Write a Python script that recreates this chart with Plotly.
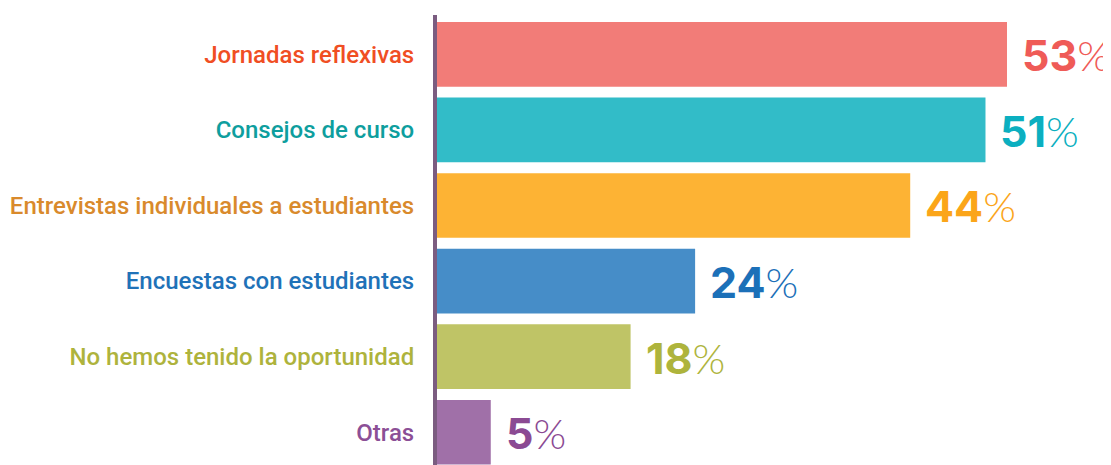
import plotly.graph_objects as go

categories = [
    "Jornadas reflexivas",
    "Consejos de curso",
    "Entrevistas individuales a estudiantes",
    "Encuestas con estudiantes",
    "No hemos tenido la oportunidad",
    "Otras",
]
values = [53, 51, 44, 24, 18, 5]
bar_colors = ["#F27C78", "#32BCC8", "#FDB334", "#468DC8", "#BFC466", "#A070A8"]
label_colors = ["#F04E23", "#0E9E9E", "#D98A2C", "#1F72B8", "#AEB33C", "#8C4F96"]
value_colors = ["#EF5B57", "#0BAFC0", "#FBA51A", "#1C70B8", "#AEB43C", "#8B4A93"]

fig = go.Figure()
fig.add_trace(go.Bar(
    y=categories,
    x=values,
    orientation="h",
    marker=dict(color=bar_colors, line=dict(width=0)),
    hoverinfo="skip",
))

for cat, v, c in zip(categories, values, value_colors):
    fig.add_annotation(
        x=v, y=cat, xref="x", yref="y",
        text=(f"<b>{v}</b><span style='font-family:Lato;font-weight:300;"
              f"font-size:42px'>%</span>"),
        showarrow=False, xanchor="left", yanchor="middle",
        xshift=13, yshift=-1,
        font=dict(family="Inter", size=43, color=c, weight=800),
    )

ticktext = [f"<span style='color:{c}'>{t}</span>" for t, c in zip(categories, label_colors)]

# page body has an 8px margin: figure is sized/offset to fill the 1111x465 window
fig.update_layout(
    width=1103, height=457,
    margin=dict(l=429, r=0, t=7, b=0),
    paper_bgcolor="white", plot_bgcolor="white",
    showlegend=False,
    bargap=0.144,
    xaxis=dict(range=[0, 62.67], showgrid=False, zeroline=False,
               showticklabels=False, showline=False),
    yaxis=dict(
        range=[5.433, -0.52],
        tickmode="array", tickvals=categories, ticktext=ticktext,
        showgrid=False, zeroline=False,
        showline=True, linewidth=4, linecolor="#7B5C80",
        ticks="", ticklabelstandoff=14,
        tickfont=dict(family="Roboto", size=24, weight=500),
    ),
)

fig.write_html("out.html")
